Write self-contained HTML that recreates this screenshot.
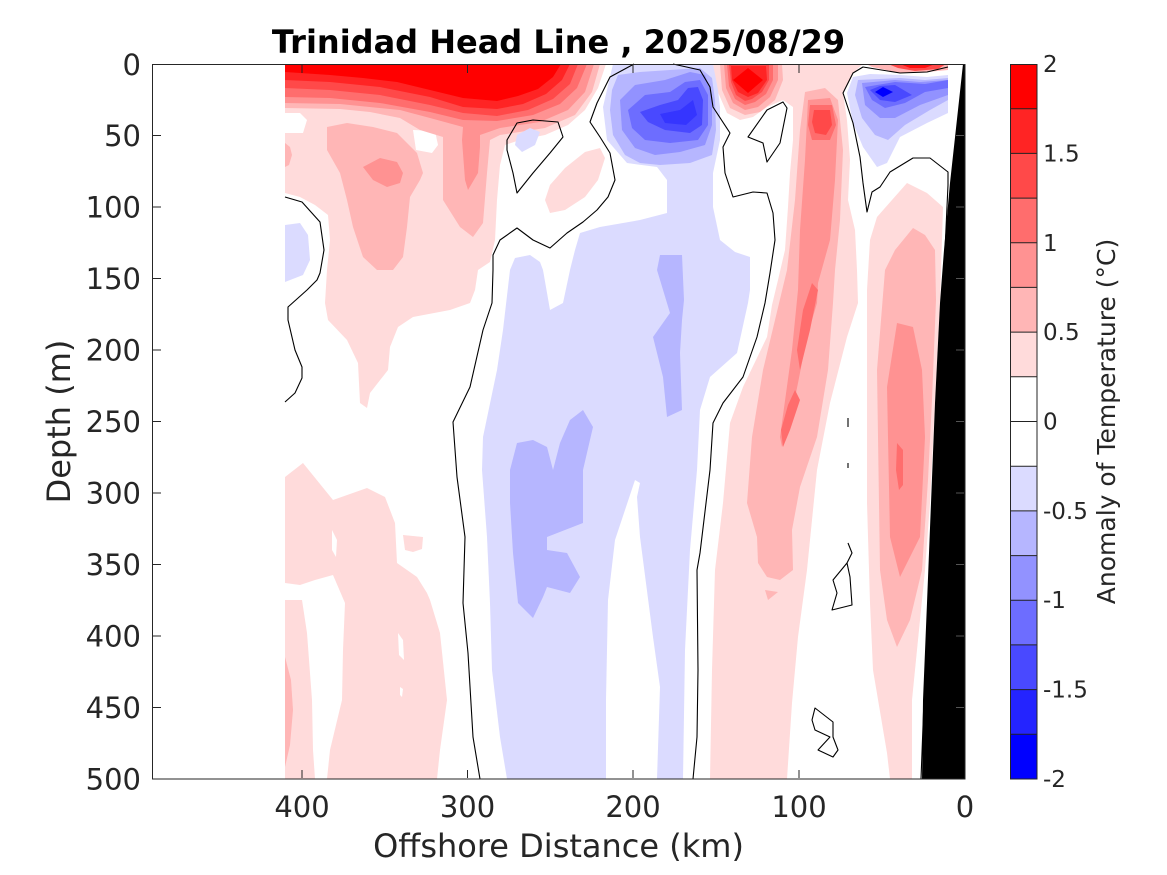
<!DOCTYPE html>
<html><head><meta charset="utf-8"><style>
html,body{margin:0;padding:0;background:#fff;}
svg{display:block;}
text{font-family:"DejaVu Sans","Liberation Sans",sans-serif;}
</style></head><body>
<svg width="1167" height="875" viewBox="0 0 1167 875" xmlns="http://www.w3.org/2000/svg">
<rect width="1167" height="875" fill="#fff"/>
<defs><clipPath id="pc"><rect x="152" y="64" width="813" height="715"/></clipPath></defs>
<g clip-path="url(#pc)" stroke="none">
<!-- left warm region pale pink -->
<polygon fill="#FFDBDB" points="285,64 606,64 598,88 585,110 568,125 545,135 520,140 505,145 500,165 497,200 495,240 490,262 478,270 475,290 470,303 450,310 413,317 398,327 390,347 388,370 370,393 367,408 360,403 358,363 347,340 328,320 325,303 327,270 330,240 328,215 315,205 300,197 285,193"/>
<polygon fill="#fff" points="285,113 300,113 307,120 303,133 285,133"/>
<polygon fill="#fff" points="413,130 435,131 438,145 432,153 416,150"/>
<!-- pink patch left of blue column -->
<polygon fill="#FFDBDB" points="545,200 550,185 565,168 585,152 600,148 605,158 598,180 585,197 565,210 550,213"/>
<!-- surface bands -->
<polygon fill="#FFB6B6" points="285,64 600,64 592,92 575,115 545,128 500,135 490,140 487,173 483,223 473,237 460,227 443,200 443,137 420,130 400,118 370,112 340,109 285,108"/>
<polygon fill="#FF9292" points="285,64 594,64 585,92 568,110 540,122 500,128 480,135 480,147 478,173 468,190 465,180 462,140 463,127 430,118 400,110 340,104 285,103"/>
<polygon fill="#FF6D6D" points="285,64 587,64 577,88 560,104 533,115 497,121 463,120 430,112 380,103 330,98 285,97"/>
<polygon fill="#FF4949" points="285,64 578,64 570,84 553,99 528,110 497,116 463,113 430,105 380,95 330,90 285,88"/>
<polygon fill="#FF2424" points="285,64 570,64 562,80 546,94 523,104 497,109 463,107 430,97 380,87 330,82 285,80"/>
<polygon fill="#FF0000" points="285,64 561,64 553,77 538,89 518,96 497,101 463,98 430,90 397,82 363,78 330,75 285,72"/>
<!-- left patches -->
<polygon fill="#FFB6B6" points="327,127 327,150 340,173 347,200 353,227 363,257 377,270 393,270 403,257 407,227 410,197 420,180 423,173 417,153 397,133 373,127 347,123"/>
<polygon fill="#FF9292" points="363,167 380,158 397,162 403,173 400,183 387,187 373,180"/>
<polygon fill="#FFB6B6" points="285,143 290,147 292,155 289,165 285,167"/>
<!-- lower left -->
<polygon fill="#FFDBDB" points="285,477 303,463 333,500 367,488 385,497 395,523 397,563 417,577 427,593 430,600 440,633 447,700 440,750 437,779 327,779 330,750 342,700 343,650 345,603 333,575 315,580 300,585 285,583"/>
<polygon fill="#FFDBDB" points="285,600 302,600 307,633 312,700 313,750 315,779 285,779"/>
<polygon fill="#FFB6B6" points="285,657 291,680 293,710 290,745 285,767"/>
<polygon fill="#FFDBDB" points="403,535 423,537 422,549 413,552 405,550"/>
<polygon fill="#fff" points="332,530 337,540 336,557 332,550"/>
<polygon fill="#fff" points="398,633 403,640 404,660 399,655"/>
<polygon fill="#fff" points="400,687 403,689 402,697 400,695"/>
<!-- middle pink band + red blob -->
<polygon fill="#FFDBDB" points="713,64 863,64 853,73 843,93 847,120 850,160 848,200 855,230 857,270 858,303 847,337 830,403 817,470 807,570 798,637 792,703 787,779 710,779 712,670 715,570 723,503 730,423 743,387 767,337 772,305 778,280 785,250 788,207 790,173 793,140 793,107 783,100 767,107 753,117 740,120 727,113 717,90"/>
<polygon fill="#FFB6B6" points="720,64 782,64 783,80 775,100 760,112 745,115 730,108 722,90"/>
<polygon fill="#FF9292" points="724,64 778,64 778,80 770,97 758,107 745,110 733,103 726,88"/>
<polygon fill="#FF6D6D" points="727,64 773,64 773,80 766,94 755,102 745,105 735,99 729,86"/>
<polygon fill="#FF4949" points="729,64 769,64 769,80 762,92 752,99 745,101 736,95 731,82"/>
<polygon fill="#FF2424" points="731,66 766,66 767,80 758,93 748,97 738,92 732,80"/>
<polygon fill="#FF0000" points="733,80 748,68 763,80 748,93"/>
<polygon fill="#FFB6B6" points="805,92 825,88 838,100 843,150 840,220 835,270 833,303 828,370 817,437 800,487 792,530 793,570 780,580 767,577 758,563 757,537 747,503 752,437 763,370 787,270 795,200 800,130"/>
<polygon fill="#FF9292" points="808,100 830,98 838,120 835,180 830,240 818,283 817,303 807,337 798,383 787,437 782,447 780,437 792,350 798,290 800,230 805,160"/>
<polygon fill="#FF6D6D" points="810,105 832,105 836,125 830,140 812,140 808,125"/>
<polygon fill="#FF4949" points="814,110 830,110 832,125 826,135 815,133 812,122"/>
<polygon fill="#FF6D6D" points="812,283 818,290 810,330 800,370 797,350 803,310"/>
<polygon fill="#FF6D6D" points="795,390 800,400 790,430 783,447 781,430 788,405"/>
<polygon fill="#FFB6B6" points="765,590 778,592 768,600"/>
<!-- right band -->
<polygon fill="#FFDBDB" points="907,183 927,193 943,207 940,303 935,403 930,503 925,570 918,640 912,700 912,779 890,779 887,753 873,670 870,603 867,503 867,370 867,290 870,240 877,217"/>
<polygon fill="#FFB6B6" points="913,228 925,235 935,250 936,300 932,400 928,480 922,570 910,620 897,647 887,620 880,570 877,370 885,270 895,250"/>
<polygon fill="#FF9292" points="897,323 913,327 922,370 925,437 920,537 900,577 890,537 887,387"/>
<polygon fill="#FF6D6D" points="897,443 903,450 903,485 899,490 896,470"/>
<!-- top right sliver -->
<polygon fill="#FFB6B6" points="866,64 948,64 948,70 927,72 900,73 872,67"/>
<polygon fill="#FF4949" points="888,64 946,64 938,69 915,71 898,68"/>
<polygon fill="#FF1010" points="900,64 935,64 925,68 910,68"/>
<!-- blue -->
<polygon fill="#DBDBFF" points="613,64 713,64 718,90 720,107 720,140 713,173 713,207 720,240 735,252 750,257 750,290 748,303 737,353 710,377 700,410 697,470 690,550 685,650 683,779 507,779 500,737 492,670 490,603 487,537 482,470 483,437 497,370 503,330 510,270 515,258 530,255 540,262 543,270 550,310 563,303 570,270 575,250 580,233 600,227 640,220 667,213 667,180 657,167 627,163 607,140 603,107"/>
<polygon fill="#fff" points="635,480 625,510 615,540 608,600 606,700 606,779 657,779 660,687 653,637 640,537 637,497 640,483"/>
<polygon fill="#B6B6FF" points="517,443 510,470 510,503 513,553 518,603 533,618 543,597 547,587 570,593 580,577 567,553 547,550 547,537 583,523 583,487 583,470 593,427 583,410 570,420 560,443 553,470 547,447 533,440"/>
<polygon fill="#B6B6FF" points="660,255 682,255 684,300 682,320 680,353 682,410 667,417 663,377 653,337 670,313 657,270"/>
<polygon fill="#DBDBFF" points="285,225 300,223 308,235 310,260 303,275 285,282"/>
<polygon fill="#DBDBFF" points="517,135 530,128 540,132 535,145 522,152 515,145"/>
<polygon fill="#B6B6FF" points="612,90 618,75 640,72 670,70 700,68 712,78 715,100 716,130 712,155 690,163 660,165 640,163 625,155 613,135 610,110"/>
<polygon fill="#9292FF" points="620,100 635,85 665,80 690,72 705,75 712,95 712,125 705,145 680,152 655,155 635,148 622,130"/>
<polygon fill="#6D6DFF" points="628,110 645,95 670,92 685,82 700,80 708,95 708,125 698,140 670,143 645,140 632,128"/>
<polygon fill="#4949FF" points="640,112 660,105 678,100 688,88 698,87 703,100 702,125 690,133 665,130 648,122"/>
<polygon fill="#3535FF" points="660,114 680,110 693,100 697,115 686,125 665,123"/>
<polygon fill="#DBDBFF" points="870,74 900,75 927,77 948,75 948,113 927,123 900,137 887,163 877,167 863,147 853,123 847,93 853,77"/>
<polygon fill="#B6B6FF" points="858,80 900,78 925,80 948,78 948,100 930,110 905,125 888,140 875,135 862,118 855,95"/>
<polygon fill="#9292FF" points="862,83 895,80 920,82 948,80 948,95 920,105 895,118 880,118 865,105"/>
<polygon fill="#6D6DFF" points="865,87 895,82 925,84 948,80 948,88 925,92 905,103 885,108 872,100"/>
<polygon fill="#4949FF" points="870,90 880,86 895,85 912,95 895,102 880,100"/>
<polygon fill="#0000FF" points="875,92 883,87 893,92 883,97"/>
<!-- bathymetry -->
<polygon fill="#000" points="963,64 966,64 966,780 922,780 923,700 927,603 931,503 935,403 940,303 944,250 950,183 958,110"/>
</g>
<!-- contours -->
<g fill="none" stroke="#000" stroke-width="1.1" stroke-linejoin="round">
<polyline points="285,197 302,202 320,222 324,250 320,273 317,280 307,290 288,307 288,320 295,350 302,367 302,378 295,393 285,402"/>
<polyline points="634,64 610,77 597,103 590,122 600,137 610,153 615,180 608,197 597,210 583,222 567,233 550,248 533,240 517,228 500,240 493,255 493,270 492,303 483,330 470,387 453,422 457,477 465,537 463,603 468,653 473,737 480,779"/>
<polygon points="507,140 517,123 533,120 558,122 563,137 550,153 533,173 517,193 513,173 507,150"/>
<polyline points="673,64 700,70 710,87 713,107 730,133 723,147 725,173 733,197 753,192 767,193 773,213 775,240 770,273 765,303 757,337 743,377 723,403 713,423 710,470 700,553 697,570 698,670 697,737 693,779"/>
<polygon points="748,137 767,110 783,102 787,108 780,143 767,162 763,143"/>
<polyline points="948,67 927,72 900,73 863,67 853,73 843,93 853,123 860,157 863,183 867,212 872,192 880,187 890,172 913,158 930,158 948,172 948,185 945,250 941,303 936,403 932,503 928,603 924,700 921,779"/>
<polyline points="848,543 852,553 847,563 833,580 837,593 832,610 852,605 850,577 847,563"/>
<polygon points="815,708 833,722 833,737 838,750 833,757 818,750 830,737 815,730 812,720"/>
<line x1="848" y1="418" x2="848" y2="427"/>
<line x1="848" y1="463" x2="848" y2="468"/>
</g>
<!-- axes -->
<g stroke="#262626" stroke-width="1" fill="none">
<rect x="152.5" y="64.5" width="812.5" height="714.5"/>
<path d="M302,65V73M467.5,65V73M633,65V73M799,65V73M302,778V770M467.5,778V770M633,778V770M799,778V770"/>
<path d="M153,135.5H161M153,207H161M153,278.5H161M153,350H161M153,421.5H161M153,493H161M153,564.5H161M153,636H161M153,707.5H161"/>
</g>
<path d="M964,135.5H956M964,207H956M964,278.5H956M964,350H956M964,421.5H956M964,493H956M964,564.5H956M964,636H956M964,707.5H956" stroke="#555" stroke-width="1"/>
<g fill="#262626" font-size="29" text-anchor="end">
<text x="141" y="75">0</text>
<text x="141" y="146">50</text>
<text x="141" y="217.5">100</text>
<text x="141" y="289">150</text>
<text x="141" y="360.5">200</text>
<text x="141" y="432">250</text>
<text x="141" y="503.5">300</text>
<text x="141" y="575">350</text>
<text x="141" y="646.5">400</text>
<text x="141" y="718">450</text>
<text x="141" y="789.5">500</text>
</g>
<g fill="#262626" font-size="29" text-anchor="middle">
<text x="302" y="817">400</text>
<text x="467.5" y="817">300</text>
<text x="633" y="817">200</text>
<text x="799" y="817">100</text>
<text x="965" y="817">0</text>
</g>
<text x="558.5" y="857" fill="#262626" font-size="32" text-anchor="middle">Offshore Distance (km)</text>
<text transform="translate(70,421.5) rotate(-90)" fill="#262626" font-size="32" text-anchor="middle">Depth (m)</text>
<text x="558.5" y="53" fill="#000" font-size="32" font-weight="bold" text-anchor="middle">Trinidad Head Line , 2025/08/29</text>
<!-- colorbar -->
<g stroke="none">
<rect x="1010" y="64" width="27" height="44.7" fill="#FF0000"/>
<rect x="1010" y="108.7" width="27" height="44.7" fill="#FF2424"/>
<rect x="1010" y="153.4" width="27" height="44.7" fill="#FF4949"/>
<rect x="1010" y="198.1" width="27" height="44.7" fill="#FF6D6D"/>
<rect x="1010" y="242.8" width="27" height="44.7" fill="#FF9292"/>
<rect x="1010" y="287.4" width="27" height="44.7" fill="#FFB6B6"/>
<rect x="1010" y="332.1" width="27" height="44.7" fill="#FFDBDB"/>
<rect x="1010" y="376.8" width="27" height="89.4" fill="#FFFFFF"/>
<rect x="1010" y="466.2" width="27" height="44.7" fill="#DBDBFF"/>
<rect x="1010" y="510.9" width="27" height="44.7" fill="#B6B6FF"/>
<rect x="1010" y="555.6" width="27" height="44.7" fill="#9292FF"/>
<rect x="1010" y="600.2" width="27" height="44.7" fill="#6D6DFF"/>
<rect x="1010" y="644.9" width="27" height="44.7" fill="#4949FF"/>
<rect x="1010" y="689.6" width="27" height="44.7" fill="#2424FF"/>
<rect x="1010" y="734.3" width="27" height="44.7" fill="#0000FF"/>
</g>
<path stroke="#222" stroke-width="1" fill="none" d="M1010,108.7H1037M1010,153.4H1037M1010,198.1H1037M1010,242.8H1037M1010,287.4H1037M1010,332.1H1037M1010,376.8H1037M1010,421.5H1037M1010,466.2H1037M1010,510.9H1037M1010,555.6H1037M1010,600.2H1037M1010,644.9H1037M1010,689.6H1037M1010,734.3H1037"/>
<rect x="1010.5" y="64.5" width="26.5" height="714.5" fill="none" stroke="#262626" stroke-width="1"/>
<g fill="#262626" font-size="23">
<text x="1043" y="72">2</text>
<text x="1043" y="161.5">1.5</text>
<text x="1043" y="251">1</text>
<text x="1043" y="340">0.5</text>
<text x="1043" y="429.5">0</text>
<text x="1043" y="519">-0.5</text>
<text x="1043" y="608">-1</text>
<text x="1043" y="697.5">-1.5</text>
<text x="1043" y="787">-2</text>
</g>
<text transform="translate(1115,421.5) rotate(-90)" fill="#262626" font-size="25" text-anchor="middle">Anomaly of Temperature (°C)</text>
</svg>
</body></html>
